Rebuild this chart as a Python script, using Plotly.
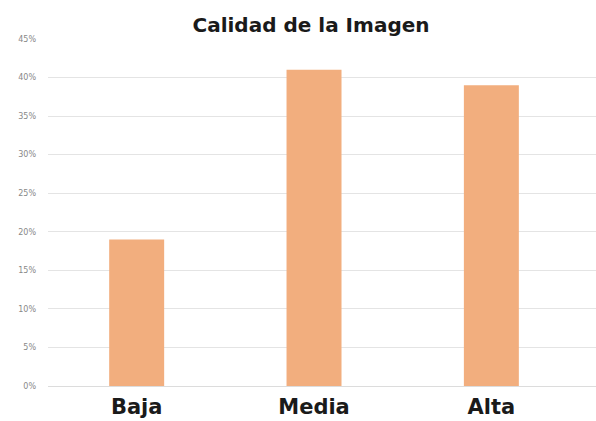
import plotly.graph_objects as go

# Image quality survey: share of responses per category
categorias = ["Baja", "Media", "Alta"]
porcentajes = [0.19, 0.41, 0.39]
ticks_y = [0, 0.05, 0.10, 0.15, 0.20, 0.25, 0.30, 0.35, 0.40, 0.45]

fig = go.Figure(
    go.Bar(
        x=categorias,
        y=porcentajes,
        marker=dict(color="#F2AE7E", line=dict(width=0)),
        width=0.31,
    )
)

fig.update_layout(
    width=596,
    height=421,
    margin=dict(l=48, r=0, t=39, b=35),
    paper_bgcolor="white",
    plot_bgcolor="white",
    showlegend=False,
    title=dict(
        text="<b>Calidad de la Imagen</b>",
        x=311 / 596,
        xanchor="center",
        y=1 - 25 / 421,
        yanchor="middle",
        font=dict(family="DejaVu Sans", size=20, color="#1a1a1a"),
    ),
)

fig.update_xaxes(
    type="category",
    range=[-0.5, 2.59],
    showgrid=False,
    showline=False,
    ticks="",
    ticklabelstandoff=6,
    tickfont=dict(family="DejaVu Sans", size=21, color="#1a1a1a", weight="bold"),
)

fig.update_yaxes(
    range=[0, 0.45],
    tickvals=ticks_y,
    tickformat=".0%",
    showgrid=True,
    gridcolor="#e4e4e4",
    gridwidth=1,
    zeroline=True,
    zerolinecolor="#dcdcdc",
    zerolinewidth=1,
    showline=False,
    ticks="",
    ticklabelstandoff=11,
    tickfont=dict(family="DejaVu Sans", size=8, color="#888888"),
)

fig.write_html("out.html")
